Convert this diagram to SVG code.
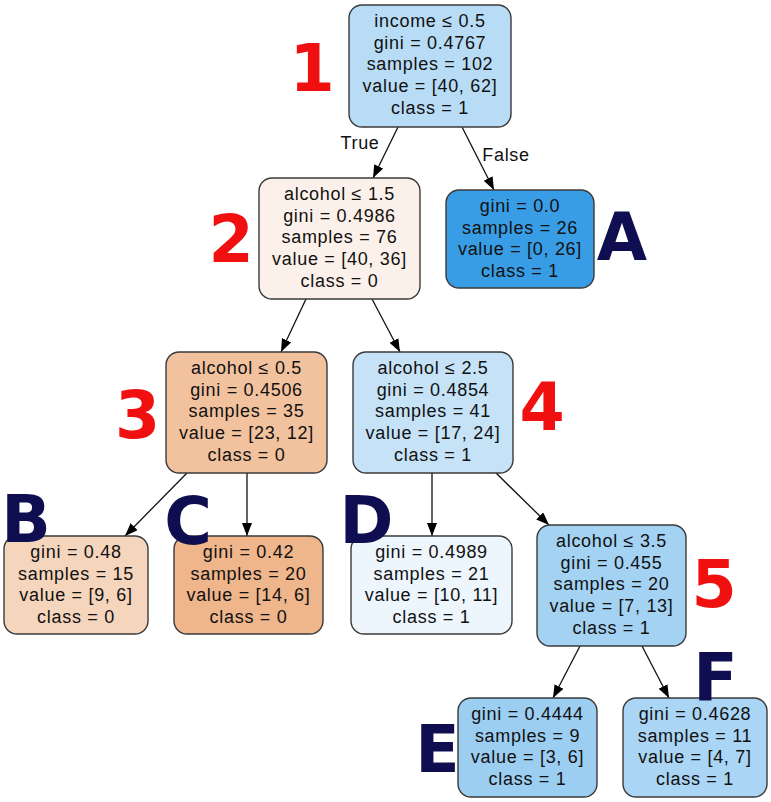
<svg xmlns="http://www.w3.org/2000/svg" width="771" height="802" viewBox="0 0 771 802">
<style>
.n rect{stroke:#3a3a3a;stroke-width:1.4}
.n text{font-family:"Liberation Sans",Arial,sans-serif;font-size:18px;letter-spacing:0.7px;fill:#111;text-anchor:middle}
.e line{stroke:#111;stroke-width:1.3;marker-end:url(#ah)}
.el{font-family:"Liberation Sans",Arial,sans-serif;font-size:18px;letter-spacing:0.7px;fill:#111;text-anchor:middle}
.big{font-family:"DejaVu Sans",sans-serif;font-weight:bold;font-size:65px;text-anchor:middle}
.r{fill:#f01010}
.b{fill:#0e0e50}
</style>
<defs>
<marker id="ah" markerUnits="userSpaceOnUse" markerWidth="14" markerHeight="11" refX="13" refY="5" orient="auto">
<path d="M0,0 L13,5 L0,10 z" fill="#000"/>
</marker>
</defs>
<rect width="771" height="802" fill="#fff"/>
<g id="edges" class="e">
<line x1="398" y1="127" x2="373" y2="178"/>
<line x1="462" y1="127" x2="494" y2="190"/>
<line x1="306" y1="299" x2="281" y2="352"/>
<line x1="372" y1="299" x2="400" y2="352"/>
<line x1="187" y1="473" x2="125" y2="536"/>
<line x1="247" y1="473" x2="247" y2="536"/>
<line x1="432" y1="473" x2="432" y2="536"/>
<line x1="496" y1="473" x2="549" y2="525"/>
<line x1="580" y1="646" x2="553" y2="698"/>
<line x1="642" y1="646" x2="669" y2="698"/>
</g>
<text class="el" x="360" y="149">True</text>
<text class="el" x="506" y="161">False</text>

<g id="node1" class="n">
<rect x="349" y="5" width="162" height="122" rx="13" fill="#b9dcf6"/>
<text x="430" y="26.7">income ≤ 0.5</text>
<text x="430" y="48.5">gini = 0.4767</text>
<text x="430" y="70.3">samples = 102</text>
<text x="430" y="92.1">value = [40, 62]</text>
<text x="430" y="113.9">class = 1</text>
</g>
<g id="node2" class="n">
<rect x="259" y="178" width="161" height="121" rx="13" fill="#fcf1ea"/>
<text x="339.5" y="199.7">alcohol ≤ 1.5</text>
<text x="339.5" y="221.5">gini = 0.4986</text>
<text x="339.5" y="243.3">samples = 76</text>
<text x="339.5" y="265.1">value = [40, 36]</text>
<text x="339.5" y="286.9">class = 0</text>
</g>
<g id="nodeA" class="n">
<rect x="446" y="190" width="148" height="98" rx="13" fill="#399de5"/>
<text x="520" y="212">gini = 0.0</text>
<text x="520" y="233.7">samples = 26</text>
<text x="520" y="255.4">value = [0, 26]</text>
<text x="520" y="277.1">class = 1</text>
</g>
<g id="node3" class="n">
<rect x="166" y="352" width="161" height="121" rx="13" fill="#f2c29f"/>
<text x="246.5" y="373.7">alcohol ≤ 0.5</text>
<text x="246.5" y="395.5">gini = 0.4506</text>
<text x="246.5" y="417.3">samples = 35</text>
<text x="246.5" y="439.1">value = [23, 12]</text>
<text x="246.5" y="460.9">class = 0</text>
</g>
<g id="node4" class="n">
<rect x="353" y="352" width="160" height="121" rx="13" fill="#c5e2f7"/>
<text x="433" y="373.7">alcohol ≤ 2.5</text>
<text x="433" y="395.5">gini = 0.4854</text>
<text x="433" y="417.3">samples = 41</text>
<text x="433" y="439.1">value = [17, 24]</text>
<text x="433" y="460.9">class = 1</text>
</g>
<g id="nodeB" class="n">
<rect x="4" y="536" width="144" height="98" rx="13" fill="#f6d5bd"/>
<text x="76" y="558">gini = 0.48</text>
<text x="76" y="579.7">samples = 15</text>
<text x="76" y="601.4">value = [9, 6]</text>
<text x="76" y="623.1">class = 0</text>
</g>
<g id="nodeC" class="n">
<rect x="174" y="536" width="149" height="98" rx="13" fill="#efb58b"/>
<text x="248.5" y="558">gini = 0.42</text>
<text x="248.5" y="579.7">samples = 20</text>
<text x="248.5" y="601.4">value = [14, 6]</text>
<text x="248.5" y="623.1">class = 0</text>
</g>
<g id="nodeD" class="n">
<rect x="351" y="536" width="161" height="98" rx="13" fill="#edf6fd"/>
<text x="431.5" y="558">gini = 0.4989</text>
<text x="431.5" y="579.7">samples = 21</text>
<text x="431.5" y="601.4">value = [10, 11]</text>
<text x="431.5" y="623.1">class = 1</text>
</g>
<g id="node5" class="n">
<rect x="537" y="525" width="149" height="121" rx="13" fill="#a4d2f3"/>
<text x="611.5" y="546.7">alcohol ≤ 3.5</text>
<text x="611.5" y="568.5">gini = 0.455</text>
<text x="611.5" y="590.3">samples = 20</text>
<text x="611.5" y="612.1">value = [7, 13]</text>
<text x="611.5" y="633.9">class = 1</text>
</g>
<g id="nodeE" class="n">
<rect x="458" y="698" width="139" height="99" rx="13" fill="#9ccef2"/>
<text x="527.5" y="720">gini = 0.4444</text>
<text x="527.5" y="741.7">samples = 9</text>
<text x="527.5" y="763.4">value = [3, 6]</text>
<text x="527.5" y="785.1">class = 1</text>
</g>
<g id="nodeF" class="n">
<rect x="623" y="698" width="144" height="99" rx="13" fill="#aad5f4"/>
<text x="695" y="720">gini = 0.4628</text>
<text x="695" y="741.7">samples = 11</text>
<text x="695" y="763.4">value = [4, 7]</text>
<text x="695" y="785.1">class = 1</text>
</g>

<g id="labels">
<text class="big r" x="312" y="91">1</text>
<text class="big r" x="231" y="262">2</text>
<text class="big r" x="137.5" y="438">3</text>
<text class="big r" x="542" y="430">4</text>
<text class="big r" x="714" y="607">5</text>
<text class="big b" x="622" y="260">A</text>
<text class="big b" x="26" y="542">B</text>
<text class="big b" x="188" y="544">C</text>
<text class="big b" x="366.5" y="543">D</text>
<text class="big b" x="437.5" y="772">E</text>
<text class="big b" x="715.5" y="700">F</text>
</g>
</svg>
